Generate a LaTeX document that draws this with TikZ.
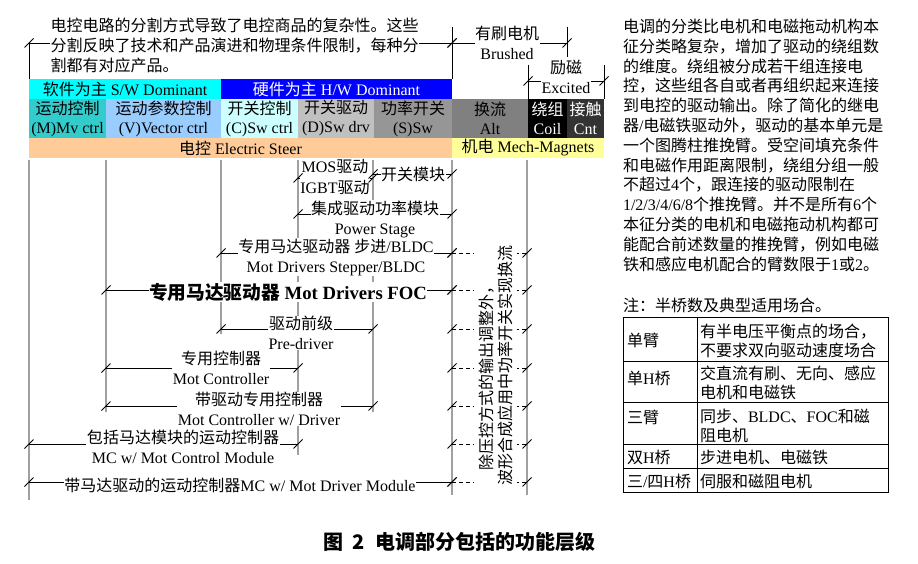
\documentclass[tikz,border=0pt]{standalone}
\usepackage{fontspec}
\setmainfont{Liberation Serif}
\newfontfamily\cjkf{Noto Sans CJK SC}
\XeTeXinterchartokenstate=1
\chardef\CJKcls=10
\newcount\cjkcnt
\cjkcnt="2E80
\loop\XeTeXcharclass\cjkcnt=\CJKcls\advance\cjkcnt by 1\relax\ifnum\cjkcnt<"A000\repeat
\cjkcnt="FF00
\loop\XeTeXcharclass\cjkcnt=\CJKcls\advance\cjkcnt by 1\relax\ifnum\cjkcnt<"FFF0\repeat
\XeTeXinterchartoks 0 \CJKcls = {\cjkf}
\XeTeXinterchartoks 4095 \CJKcls = {\cjkf}
\XeTeXinterchartoks \CJKcls 0 = {\rmfamily}
\XeTeXinterchartoks \CJKcls 4095 = {\rmfamily}

\definecolor{swc}{HTML}{00FFFF}
\definecolor{hwc}{HTML}{0000FF}
\definecolor{mcol}{HTML}{33CCCC}
\definecolor{vcol}{HTML}{99CCFF}
\definecolor{ccol}{HTML}{CCFFFF}
\definecolor{dcol}{HTML}{C0C0C0}
\definecolor{scol}{HTML}{969696}
\definecolor{altc}{HTML}{808080}
\definecolor{cntc}{HTML}{333333}
\definecolor{esc}{HTML}{FFCC99}
\definecolor{mmc}{HTML}{FFFF99}
\definecolor{extc}{HTML}{A0A0A0}

\pgfdeclarelayer{bg}
\pgfdeclarelayer{fg}
\pgfsetlayers{bg,main,fg}

\newcommand\dimln[4]{% name, x1, x2, y
  \coordinate (#1l) at (#2,#4);
  \coordinate (#1r) at (#3,#4);
  \begin{pgfonlayer}{bg}\draw[dimline] (#1l) -- (#1r);\end{pgfonlayer}
  \begin{pgfonlayer}{fg}
    \draw[dimtick] (#1l) +(-4.5,4.5) -- +(4.5,-4.5);
    \draw[dimtick] (#1r) +(-4.5,4.5) -- +(4.5,-4.5);
  \end{pgfonlayer}}
\newcommand\dashdim[2]{% name, y
  \coordinate (#1l) at (452,#2);
  \coordinate (#1r) at (527,#2);
  \begin{pgfonlayer}{bg}\draw[dashln] (#1l) -- (#1r);\end{pgfonlayer}
  \begin{pgfonlayer}{fg}
    \draw[dimtick] (#1l) +(-4.5,4.5) -- +(4.5,-4.5);
    \draw[dimtick] (#1r) +(-4.5,4.5) -- +(4.5,-4.5);
  \end{pgfonlayer}}

\begin{document}
\begin{tikzpicture}[x=1bp,y=-1bp,
  every node/.style={font=\fontsize{16bp}{20bp}\selectfont, inner sep=0.5bp, outer sep=0pt},
  bar/.style={inner sep=0pt, anchor=north west, align=center, font=\fontsize{16bp}{19bp}\selectfont},
  lbl/.style={fill=white, align=center},
  dimline/.style={draw=black, line width=0.8bp},
  dimtick/.style={draw=black, line width=0.8bp},
  extline/.style={draw=extc, line width=1.1bp},
  dashln/.style={draw=black, line width=0.8bp, dash pattern=on 4bp off 3bp},
  cell/.style={anchor=west, inner sep=0pt, align=left, font=\fontsize{16bp}{19bp}\selectfont}]

\begin{pgfonlayer}{bg}
\fill[white] (0,0) rectangle (918,564);
\end{pgfonlayer}
\useasboundingbox (0,0) rectangle (918,564);

% ---------- bars ----------
\node[bar, fill=swc, minimum width=192bp, minimum height=20bp] (sw) at (29,79) {软件为主 S/W Dominant};
\node[bar, fill=hwc, text=white, minimum width=231bp, minimum height=20bp] (hw) at (221,79) {硬件为主 H/W Dominant};

\node[bar, fill=mcol, minimum width=77bp, minimum height=39bp] (bm) at (29,99) {运动控制\\(M)Mv ctrl};
\node[bar, fill=vcol, minimum width=115bp, minimum height=39bp] (bv) at (106,99) {运动参数控制\\(V)Vector ctrl};
\node[bar, fill=ccol, minimum width=77bp, minimum height=39bp] (bc) at (221,99) {开关控制\\(C)Sw ctrl};
\node[bar, fill=dcol, minimum width=76bp, minimum height=39bp] (bd) at (298,99) {开关驱动\\(D)Sw drv};
\node[bar, fill=scol, minimum width=78bp, minimum height=39bp] (bs) at (374,99) {功率开关\\(S)Sw};
\node[bar, fill=altc, minimum width=76bp, minimum height=39bp] (balt) at (452,99) {换流\\Alt};
\node[bar, fill=black, text=white, minimum width=39bp, minimum height=39bp] (bcoil) at (528,99) {绕组\\Coil};
\node[bar, fill=cntc, text=white, minimum width=37bp, minimum height=39bp] (bcnt) at (567,99) {接触\\Cnt};

\node[bar, fill=esc, minimum width=423bp, minimum height=20bp] (bes) at (29,138) {电控 Electric Steer};
\node[bar, fill=mmc, minimum width=152bp, minimum height=20bp] (bmm) at (452,138) {机电 Mech-Magnets};

% ---------- extension lines ----------
\begin{pgfonlayer}{bg}
\draw[dimline] (29,43) -- (29,79);
\draw[dimline] (452,27) -- (452,79);
\draw[dimline] (567,27) -- (567,57);
\draw[dimline] (528,65) -- (528,99);
\draw[dimline] (604,65) -- (604,99);
\draw[extline] (29,160) -- (29,500);
\draw[extline] (106,160) -- (106,412);
\draw[extline] (221,160) -- (221,334);
\draw[extline] (298,160) -- (298,455);
\draw[extline] (373,160) -- (373,412);
\draw[extline] (452,160) -- (452,495);
\draw[extline] (527,160) -- (527,495);
\end{pgfonlayer}

% ---------- dimension lines ----------
\dimln{dtop}{29}{452}{43}
\dimln{dbr}{452}{567}{43}
\dimln{dex}{528}{604}{81}
\dimln{dmos}{298}{373}{178}
\dimln{dkg}{373}{452}{174}
\dimln{dps}{298}{452}{214}
\dimln{dst}{221}{452}{253}
\dimln{dfoc}{106}{452}{290}
\dimln{dpd}{221}{373}{329}
\dimln{dmc}{106}{298}{368}
\dimln{dmcd}{106}{373}{406}
\dimln{dmcm}{29}{298}{444}
\dimln{dmdm}{29}{452}{482}

\dashdim{xst}{253}
\dashdim{xfoc}{290}
\dashdim{xpd}{329}
\dashdim{xmc}{368}
\dashdim{xmcd}{406}
\dashdim{xmcm}{444}
\dashdim{xmdm}{482}

% ---------- labels ----------
\node[lbl, anchor=west, align=left] (ttop) at (50,45) {电控电路的分割方式导致了电控商品的复杂性。这些\\分割反映了技术和产品演进和物理条件限制，每种分\\割都有对应产品。};
\node[lbl] (tbr) at (507,42.5) {有刷电机\\Brushed};
\node[lbl] (tex) at (566,77) {励磁\\Excited};
\node[lbl, font=\fontsize{16bp}{21bp}\selectfont] (tmos) at (335,177.5) {MOS驱动\\IGBT驱动};
\node[lbl] (tkg) at (413,174) {开关模块};
\node[lbl] (tps) at (375,219) {集成驱动功率模块\\Power Stage};
\node[lbl] (tst) at (336,257) {专用马达驱动器 步进/BLDC\\Mot Drivers Stepper/BLDC};
\node[lbl, font=\bfseries\fontsize{18.7bp}{22bp}\selectfont] (tfoc) at (288,292) {专用马达驱动器 Mot Drivers FOC};
\node[lbl] (tpd) at (301,333) {驱动前级\\Pre-driver};
\node[lbl] (tmc) at (221,367.5) {专用控制器\\Mot Controller};
\node[lbl] (tmcd) at (259,409) {带驱动专用控制器\\Mot Controller w/ Driver};
\node[lbl] (tmcm) at (183,447) {包括马达模块的运动控制器\\MC w/ Mot Control Module};
\node[lbl] (tmdm) at (240,485) {带马达驱动的运动控制器MC w/ Mot Driver Module};

% vertical text
\fill[white] (474,242) rectangle (517,492);
\node[rotate=90] (vt1) at (487,374) {除压控方式的输出调整外，};
\node[rotate=90] (vt2) at (505,365) {波形合成应用中功率开关实现换流};

% ---------- right paragraph ----------
\node[anchor=north west, align=left, inner sep=0pt, font=\fontsize{16bp}{19.8bp}\selectfont] (para) at (623,19) {电调的分类比电机和电磁拖动机构本\\征分类略复杂，增加了驱动的绕组数\\的维度。绕组被分成若干组连接电\\控，这些组各自或者再组织起来连接\\到电控的驱动输出。除了简化的继电\\器/电磁铁驱动外，驱动的基本单元是\\一个图腾柱推挽臂。受空间填充条件\\和电磁作用距离限制，绕组分组一般\\不超过4个，跟连接的驱动限制在\\1/2/3/4/6/8个推挽臂。并不是所有6个\\本征分类的电机和电磁拖动机构都可\\能配合前述数量的推挽臂，例如电磁\\铁和感应电机配合的臂数限于1或2。};

% ---------- table ----------
\node[anchor=west, inner sep=0pt] (note) at (623,305) {注：半桥数及典型适用场合。};
\draw[line width=1bp] (623,317) rectangle (888,492);
\draw[line width=1bp] (697,317) -- (697,492);
\foreach \ry in {361,402,444,468} \draw[line width=1bp] (623,\ry) -- (888,\ry);
\node[cell] (c1a) at (627,340) {单臂};
\node[cell] (c1b) at (700,341) {有半电压平衡点的场合，\\不要求双向驱动速度场合};
\node[cell] (c2a) at (627,378) {单H桥};
\node[cell] (c2b) at (700,383) {交直流有刷、无向、感应\\电机和电磁铁};
\node[cell] (c3a) at (627,417) {三臂};
\node[cell] (c3b) at (700,425.5) {同步、BLDC、FOC和磁\\阻电机};
\node[cell] (c4a) at (627,457) {双H桥};
\node[cell] (c4b) at (700,457) {步进电机、电磁铁};
\node[cell] (c5a) at (627,481) {三/四H桥};
\node[cell] (c5b) at (700,481) {伺服和磁阻电机};

% ---------- caption ----------
\node[font={\XeTeXinterchartokenstate=0\cjkf\bfseries\fontsize{20bp}{24bp}\selectfont}] (cap) at (459.5,542) {图\hspace{9bp}2\hspace{10bp}电调部分包括的功能层级};
\end{tikzpicture}
\end{document}
